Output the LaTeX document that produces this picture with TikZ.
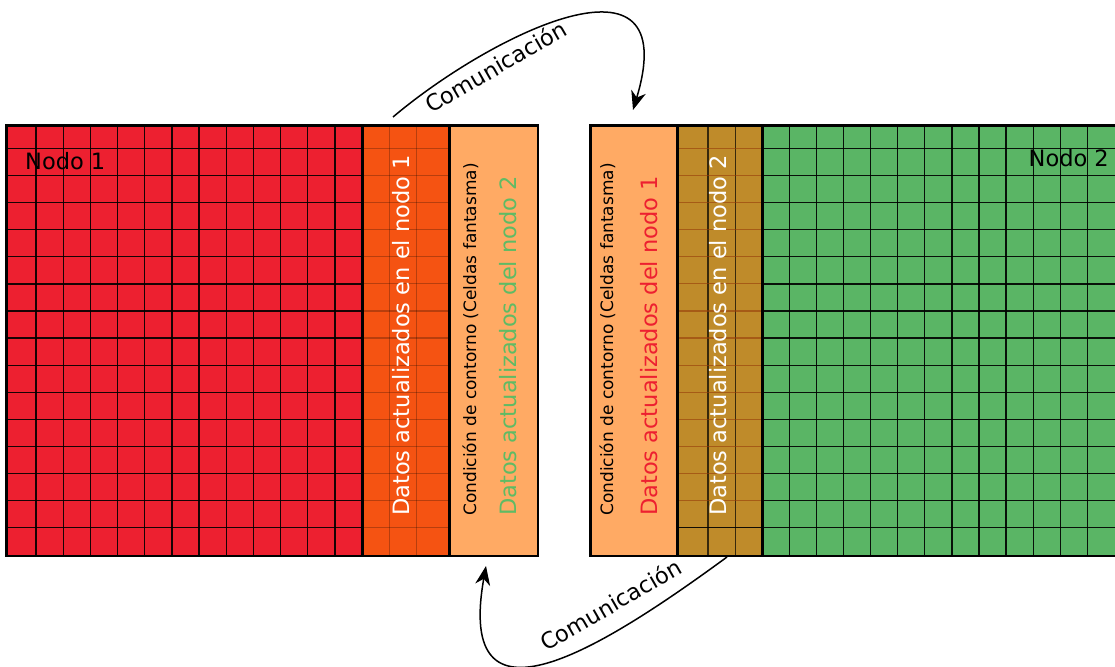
\documentclass[tikz,border=0pt]{standalone}
\usepackage{fontspec}
\setmainfont{DejaVu Sans}
\usetikzlibrary{arrows.meta}
\definecolor{cred}{RGB}{237,32,48}
\definecolor{cdorange}{RGB}{245,83,18}
\definecolor{clorange}{RGB}{255,170,100}
\definecolor{cbrown}{RGB}{191,139,42}
\definecolor{cgreen}{RGB}{90,181,101}
\definecolor{ctgreen}{RGB}{95,187,100}
\tikzset{
  block/.style={draw=black, line width=1.5pt, anchor=north west, inner sep=0pt, minimum height=430pt},
  gridline/.style={line width=1.3pt, draw=black, draw opacity=0.9},
  softgrid/.style={line width=1.2pt, draw=black, draw opacity=0.25},
  bigtext/.style={font=\fontsize{22.5}{27}\selectfont, inner sep=0pt},
  smalltext/.style={font=\fontsize{17}{20}\selectfont, inner sep=0pt},
  comm/.style={line width=1.5pt, -{Stealth[length=19pt,width=15pt,inset=6pt]}},
}
\begin{document}
\begin{tikzpicture}[x=1pt,y=-1pt]
\useasboundingbox (0,0) rectangle (1115,666);
% blocks
\node[block, fill=cred, minimum width=356pt] (red) at (6,125) {};
\node[block, fill=cdorange, minimum width=87pt] (dor) at (362,125) {};
\node[block, fill=clorange, minimum width=88pt] (lol) at (449,125) {};
\node[block, fill=clorange, minimum width=87pt] (lor) at (590,125) {};
\node[block, fill=cbrown, minimum width=85pt] (brn) at (677,125) {};
\node[block, fill=cgreen, minimum width=355pt] (grn) at (762,125) {};
% grids
\foreach \k in {0,...,11} \draw[gridline] ({36+27.17*\k},125) -- ({36+27.17*\k},555);
\foreach \k in {0,...,14} \draw[gridline] (6,{148.3+27.11*\k}) -- (362,{148.3+27.11*\k});
\foreach \k in {0,...,11} \draw[gridline] ({789.3+27.1*\k},125) -- ({789.3+27.1*\k},555);
\foreach \k in {0,...,14} \draw[gridline] (762,{148.3+27.11*\k}) -- (1116,{148.3+27.11*\k});
\foreach \x in {389.5,416.5} \draw[softgrid] (\x,125) -- (\x,555);
\foreach \k in {0,...,14} \draw[softgrid] (362,{148.3+27.11*\k}) -- (449,{148.3+27.11*\k});
\foreach \x in {708,735.5} \draw[gridline, draw opacity=0.7] (\x,125) -- (\x,555);
\foreach \k in {0,...,13} \draw[line width=1.2pt, draw={rgb,255:red,150;green,60;blue,10}, draw opacity=0.6] (677,{148.3+27.11*\k}) -- (762,{148.3+27.11*\k});
\draw[gridline] (677,527.8) -- (762,527.8);
% redraw borders
\foreach \b in {red,dor,lol,lor,brn,grn} \draw[line width=1.5pt] (\b.north west) rectangle (\b.south east);
% labels
\node[bigtext, anchor=base west] (t1) at (25,169) {Nodo 1};
\node[bigtext, anchor=base east] (t2) at (1109,166) {Nodo 2};
\node[bigtext, text=white, rotate=90, anchor=base west] (t3) at (409,516) {Datos actualizados en el nodo 1};
\node[smalltext, rotate=90, anchor=base west] (t4) at (476,516) {Condición de contorno (Celdas fantasma)};
\node[bigtext, text=ctgreen, rotate=90, anchor=base west] (t5) at (516,516) {Datos actualizados del nodo 2};
\node[smalltext, rotate=90, anchor=base west] (t6) at (613,516) {Condición de contorno (Celdas fantasma)};
\node[bigtext, text=cred, rotate=90, anchor=base west] (t7) at (657,516) {Datos actualizados del nodo 1};
\node[bigtext, text=white, rotate=90, anchor=base west] (t8) at (726,516) {Datos actualizados en el nodo 2};
% communication arrows
\coordinate (a1s) at (393,117);
\coordinate (a1e) at (633,110);
\coordinate (a2s) at (727,557);
\coordinate (a2e) at (486,566);
\draw[comm] (a1s) .. controls (490,35) and (685,-62) .. (a1e);
\draw[comm] (a2s) .. controls (600,650) and (455,740) .. (a2e);
\node[bigtext, rotate=30, anchor=base west] (c1) at (431,114) {Comunicación};
\node[bigtext, rotate=30, anchor=base west] (c2) at (546,652) {Comunicación};
\end{tikzpicture}
\end{document}
